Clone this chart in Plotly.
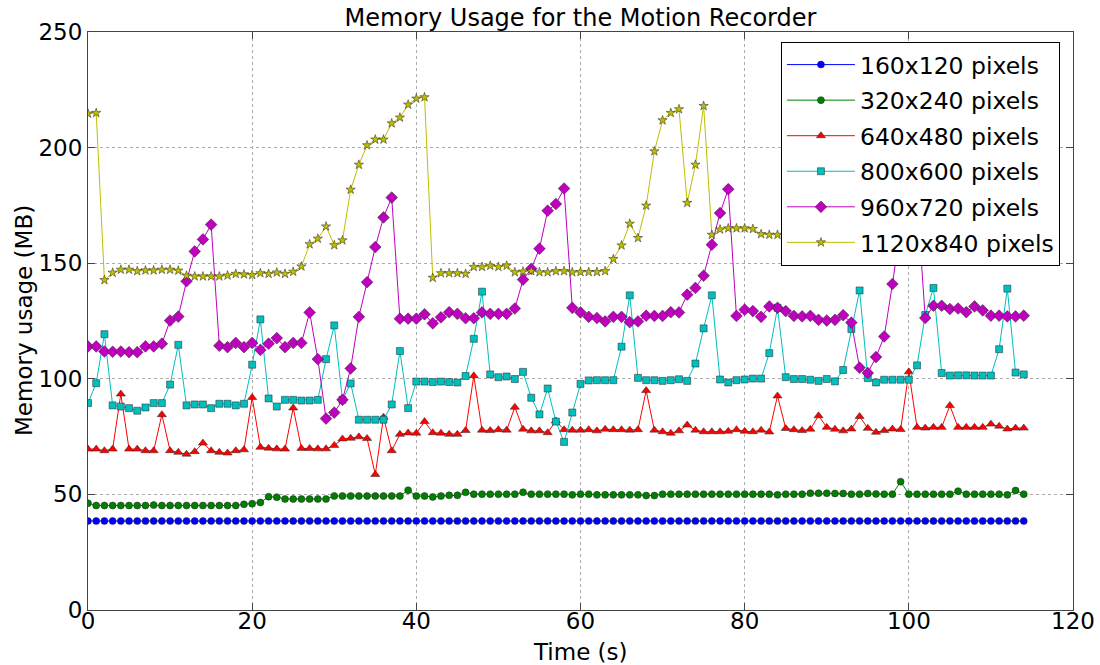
import plotly.graph_objects as go

time_s = list(range(115))

mem_160x120 = [
    38.5, 38.5, 38.5, 38.5, 38.5, 38.5, 38.5, 38.5, 38.5, 38.5,
    38.5, 38.5, 38.5, 38.5, 38.5, 38.5, 38.5, 38.5, 38.5, 38.5,
    38.5, 38.5, 38.5, 38.5, 38.5, 38.5, 38.5, 38.5, 38.5, 38.5,
    38.5, 38.5, 38.5, 38.5, 38.5, 38.5, 38.5, 38.5, 38.5, 38.5,
    38.5, 38.5, 38.5, 38.5, 38.5, 38.5, 38.5, 38.5, 38.5, 38.5,
    38.5, 38.5, 38.5, 38.5, 38.5, 38.5, 38.5, 38.5, 38.5, 38.5,
    38.5, 38.5, 38.5, 38.5, 38.5, 38.5, 38.5, 38.5, 38.5, 38.5,
    38.5, 38.5, 38.5, 38.5, 38.5, 38.5, 38.5, 38.5, 38.5, 38.5,
    38.5, 38.5, 38.5, 38.5, 38.5, 38.5, 38.5, 38.5, 38.5, 38.5,
    38.5, 38.5, 38.5, 38.5, 38.5, 38.5, 38.5, 38.5, 38.5, 38.5,
    38.5, 38.5, 38.5, 38.5, 38.5, 38.5, 38.5, 38.5, 38.5, 38.5,
    38.5, 38.5, 38.5, 38.5, 38.5,
]

mem_320x240 = [
    46.2, 45.2, 45.2, 45.2, 45.2, 45.2, 45.2, 45.2, 45.4, 45.2,
    45.2, 45.2, 45.2, 45.2, 45.2, 45.2, 45.2, 45.2, 45.2, 45.7,
    46.0, 46.5, 49.0, 48.8, 48.0, 48.0, 48.0, 48.0, 48.0, 48.0,
    49.3, 49.3, 49.3, 49.3, 49.3, 49.3, 49.3, 49.3, 49.3, 51.8,
    49.3, 49.3, 48.9, 49.3, 49.6, 49.6, 50.9, 50.1, 50.1, 50.1,
    50.1, 50.1, 50.1, 50.9, 50.1, 50.1, 50.1, 50.1, 50.1, 49.8,
    50.1, 50.1, 49.8, 49.8, 49.8, 49.8, 49.8, 49.8, 49.5, 49.5,
    50.1, 50.1, 50.1, 50.1, 50.1, 50.1, 50.1, 50.1, 50.1, 50.1,
    50.1, 50.1, 50.1, 50.1, 49.8, 50.1, 50.1, 50.1, 50.5, 50.5,
    50.5, 50.4, 50.4, 50.1, 50.1, 50.4, 50.2, 50.1, 50.1, 55.5,
    50.1, 50.1, 50.1, 50.1, 50.1, 50.1, 51.4, 50.1, 50.1, 50.1,
    50.1, 50.1, 49.8, 51.7, 50.1,
]

mem_640x480 = [
    69.6, 69.6, 68.9, 69.6, 93.4, 69.6, 69.6, 68.9, 68.9, 84.5,
    68.9, 68.2, 67.4, 68.5, 72.2, 68.9, 68.2, 67.9, 68.9, 69.3,
    91.9, 70.4, 70.0, 69.7, 69.6, 87.4, 69.9, 69.9, 69.7, 69.7,
    71.2, 74.0, 74.3, 74.9, 74.2, 58.6, 83.4, 68.9, 76.0, 76.6,
    76.5, 81.5, 76.7, 76.5, 76.0, 76.0, 77.6, 101.3, 77.8, 77.6,
    78.0, 77.8, 87.7, 78.2, 77.5, 77.5, 76.7, 81.8, 78.0, 77.8,
    77.8, 78.0, 77.5, 78.2, 78.0, 78.0, 77.8, 78.0, 94.9, 77.8,
    77.1, 76.5, 77.5, 80.0, 77.8, 77.1, 77.1, 77.1, 77.3, 78.0,
    77.3, 77.1, 77.8, 77.0, 92.6, 78.5, 78.0, 77.6, 78.2, 84.0,
    79.0, 78.2, 77.5, 78.3, 83.7, 78.6, 76.9, 77.6, 78.3, 78.1,
    103.0, 79.0, 78.7, 79.0, 79.0, 88.4, 79.0, 79.0, 79.0, 79.0,
    80.4, 79.5, 78.3, 78.7, 78.7,
]

mem_800x600 = [
    89.5, 98.1, 119.3, 88.5, 88.0, 87.3, 86.2, 87.6, 89.5, 89.5,
    97.5, 114.7, 88.5, 88.9, 88.9, 87.3, 89.2, 89.2, 88.5, 89.2,
    106.1, 125.7, 91.5, 88.0, 90.9, 90.9, 90.6, 90.6, 90.9, 108.5,
    123.1, 90.9, 98.0, 82.3, 82.3, 82.3, 82.3, 88.9, 112.0, 87.3,
    98.8, 98.8, 98.6, 98.8, 98.6, 98.4, 101.2, 117.3, 137.7, 101.9,
    100.7, 101.0, 99.9, 103.0, 91.8, 84.6, 95.8, 81.5, 72.7, 85.4,
    97.8, 99.3, 99.4, 99.4, 99.4, 113.9, 136.1, 100.4, 99.4, 99.4,
    99.1, 99.4, 99.8, 99.1, 106.6, 121.8, 136.1, 99.7, 98.4, 99.4,
    99.7, 100.1, 100.1, 111.1, 130.7, 100.7, 99.9, 99.9, 99.6, 99.1,
    99.9, 98.9, 103.8, 121.5, 138.2, 100.3, 98.4, 99.6, 99.6, 99.6,
    99.6, 105.8, 127.6, 139.3, 102.5, 101.4, 101.5, 101.5, 101.4, 101.4,
    101.4, 112.8, 139.0, 102.7, 101.9,
]

mem_960x720 = [
    114.0, 114.0, 111.8, 111.7, 111.8, 111.5, 111.5, 114.0, 114.0, 115.2,
    125.2, 126.9, 142.2, 155.1, 160.3, 166.7, 114.3, 113.7, 115.5, 113.7,
    115.5, 112.5, 115.2, 117.6, 113.7, 115.5, 115.5, 128.7, 108.5, 82.8,
    85.4, 90.9, 104.5, 126.8, 141.8, 157.0, 169.8, 178.4, 126.0, 126.0,
    126.0, 127.9, 124.0, 126.6, 128.8, 128.1, 126.2, 126.2, 128.7, 128.1,
    128.1, 128.1, 130.4, 142.9, 147.6, 156.3, 172.7, 175.6, 182.3, 130.7,
    128.7, 126.8, 126.3, 124.8, 126.8, 126.8, 124.5, 124.8, 127.3, 127.2,
    127.2, 128.8, 128.7, 136.4, 139.3, 144.6, 158.0, 171.7, 182.0, 127.2,
    129.9, 129.3, 126.8, 131.3, 130.7, 129.3, 127.2, 127.0, 127.2, 125.5,
    125.2, 125.5, 127.5, 124.3, 104.8, 102.5, 109.4, 118.3, 141.0, 165.0,
    172.0, 178.0, 126.3, 131.6, 131.6, 130.2, 130.4, 128.8, 131.3, 129.6,
    127.3, 127.3, 127.0, 127.0, 127.3,
]

mem_1120x840 = [
    214.7, 215.0, 142.7, 145.9, 147.2, 147.2, 146.6, 146.9, 146.9, 147.2,
    147.2, 146.8, 144.6, 144.3, 144.3, 144.3, 144.3, 144.7, 145.4, 145.2,
    144.9, 145.7, 145.4, 146.0, 145.4, 146.3, 148.6, 158.2, 160.6, 165.9,
    157.8, 159.9, 181.8, 192.6, 201.0, 203.5, 203.5, 210.5, 213.0, 218.6,
    221.2, 221.8, 143.7, 145.7, 145.7, 145.7, 145.4, 148.4, 148.4, 148.9,
    148.4, 148.9, 146.1, 146.4, 146.6, 146.1, 146.1, 146.6, 146.6, 146.1,
    146.2, 146.2, 146.2, 146.6, 151.8, 157.7, 167.1, 160.9, 174.9, 198.4,
    211.8, 215.0, 216.6, 176.1, 192.6, 218.0, 162.3, 164.6, 165.1, 165.1,
    165.1, 164.8, 162.6, 162.3, 162.3, 162.0, 161.8, 162.0, 162.1, 161.9,
    162.2, 163.0, 165.5, 170.2, 176.8, 183.5, 190.1, 197.4, 204.2, 209.8,
    214.5, 217.3, 219.0, 221.5, 166.0, 168.2, 170.4, 175.1, 182.6, 189.9,
    196.3, 203.8, 208.5, 212.7, 215.2,
]

series_names = [
    "160x120 pixels", "320x240 pixels", "640x480 pixels",
    "800x600 pixels", "960x720 pixels", "1120x840 pixels",
]
series_values = [mem_160x120, mem_320x240, mem_640x480,
                 mem_800x600, mem_960x720, mem_1120x840]
series_colors = ["#0000ff", "#008000", "#ff0000", "#00bfbf", "#bf00bf", "#bfbf00"]
series_symbols = ["circle", "circle", "triangle-up", "square", "diamond", "star"]
series_sizes = [7, 7, 8, 7, 9, 7]

FONT = "DejaVu Sans"

fig = go.Figure()
for i, (name, vals, col, sym, sz) in enumerate(
        zip(series_names, series_values, series_colors, series_symbols, series_sizes)):
    fig.add_trace(go.Scatter(
        x=time_s, y=vals, name=name, mode="lines+markers",
        legendgroup=f"g{i}",
        line=dict(color=col, width=1),
        marker=dict(symbol=sym, size=sz, color=col,
                    line=dict(color="#222222", width=0.5)),
    ))

axis_common = dict(
    showgrid=True, gridcolor="#ababab", griddash="dot", gridwidth=1,
    showline=True, linecolor="#444444", linewidth=1, mirror="allticks",
    ticks="inside", ticklen=7, tickcolor="#444444", tickwidth=1,
    zeroline=False, automargin=False,
    tickfont=dict(size=23, color="black", family=FONT),
)

fig.update_layout(
    width=1100, height=665,
    margin=dict(l=88, r=27, t=32, b=55),
    paper_bgcolor="white", plot_bgcolor="white",
    font=dict(family=FONT, color="black"),
    title=dict(text="Memory Usage for the Motion Recorder",
               x=0.5, xref="paper", y=0.973, yref="container",
               xanchor="center", yanchor="middle",
               font=dict(size=24, family=FONT, color="black")),
    xaxis=dict(range=[0, 120], tick0=0, dtick=20, ticklabelstandoff=-10,
               **axis_common),
    yaxis=dict(range=[0, 250], tick0=0, dtick=50, ticklabelstandoff=0,
               **axis_common),
    legend=dict(x=0.7035, y=0.983, xanchor="left", yanchor="top",
                bgcolor="white", bordercolor="black", borderwidth=1,
                font=dict(size=23.5, family=FONT, color="black"),
                traceorder="grouped", tracegroupgap=2, itemwidth=68),
    showlegend=True,
    annotations=[
        dict(text="Time (s)", xref="paper", yref="paper", x=0.5, y=0,
             xanchor="center", yanchor="middle", yshift=-42, showarrow=False,
             font=dict(size=23, family=FONT, color="black")),
        dict(text="Memory usage (MB)", xref="paper", yref="paper", x=0, y=0.5,
             xanchor="center", yanchor="middle", xshift=-64, textangle=-90,
             showarrow=False, font=dict(size=23, family=FONT, color="black")),
    ],
)

fig.write_html("out.html",
               config={"displayModeBar": False},
               post_script="document.body.style.margin='0';document.body.style.overflow='hidden';")
